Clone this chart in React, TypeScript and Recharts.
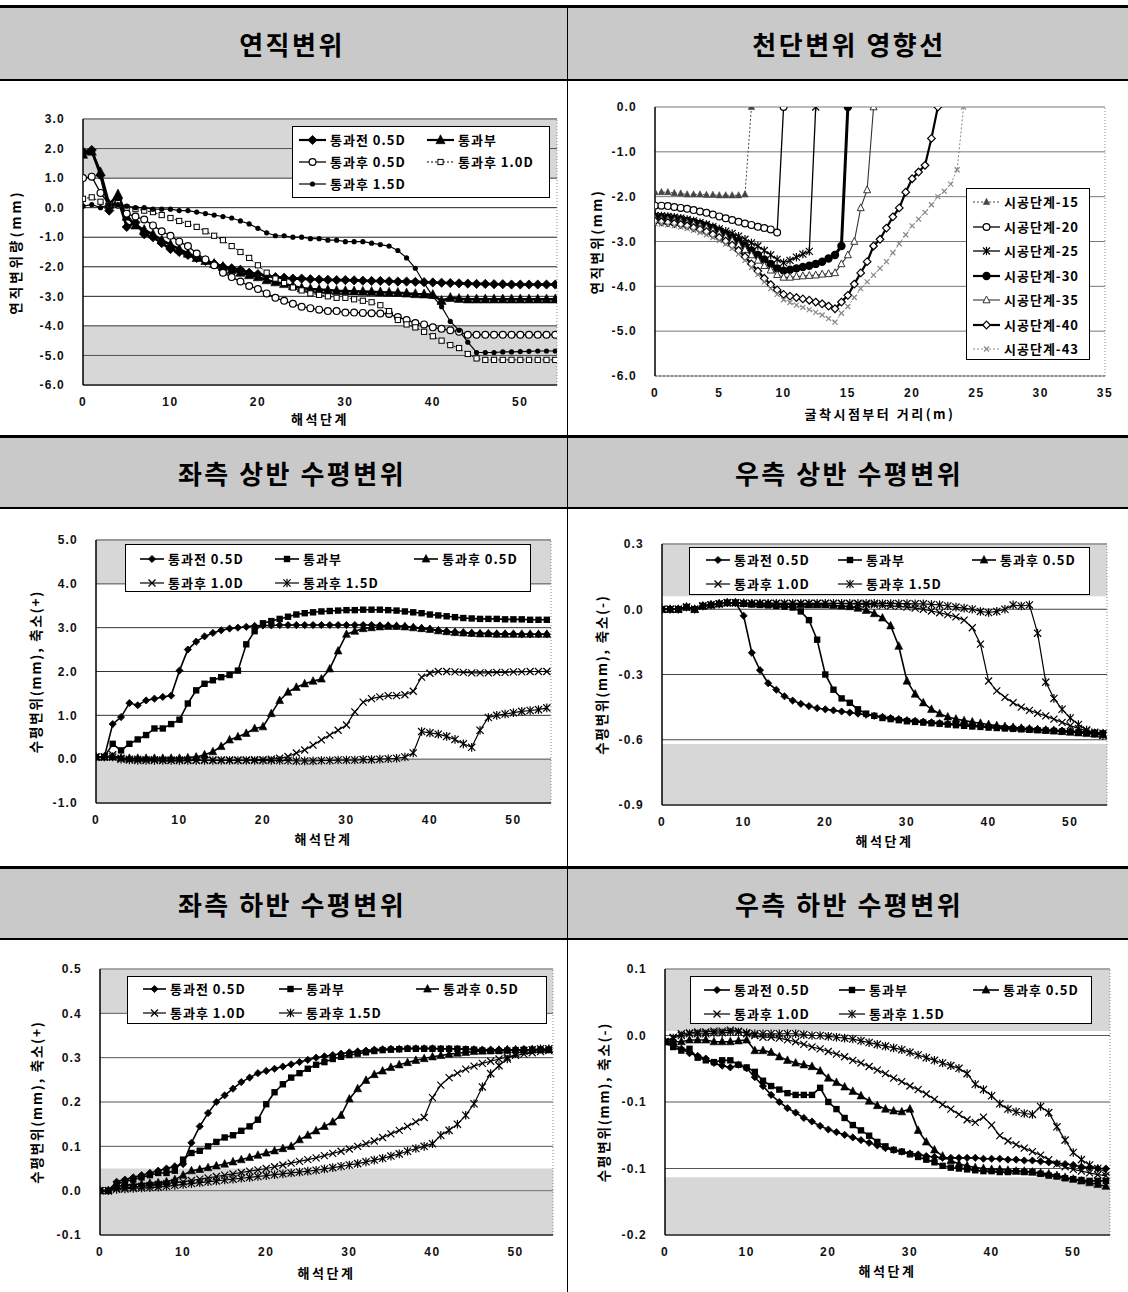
import React from 'react';
import { LineChart, Line, XAxis, YAxis, CartesianGrid, Legend, ReferenceArea, ReferenceLine, Label } from 'recharts';

// ---------------- DATA ----------------
const STEPS = [0,1,2,3,4,5,6,7,8,9,10,11,12,13,14,15,16,17,18,19,20,21,22,23,24,25,26,27,28,29,30,31,32,33,34,35,36,37,38,39,40,41,42,43,44,45,46,47,48,49,50,51,52,53,54];
const SERIES_NAMES = ['통과전 0.5D', '통과부', '통과후 0.5D', '통과후 1.0D', '통과후 1.5D'];

// 연직변위
const C1_BEFORE_05 = [1.9,1.95,1.1,-0.1,0.3,-0.65,-0.5,-0.9,-1.0,-1.2,-1.4,-1.5,-1.6,-1.7,-1.8,-1.9,-2.0,-2.05,-2.1,-2.2,-2.25,-2.3,-2.35,-2.37,-2.4,-2.4,-2.42,-2.43,-2.44,-2.45,-2.45,-2.46,-2.47,-2.48,-2.48,-2.49,-2.5,-2.5,-2.51,-2.52,-2.53,-2.54,-2.55,-2.56,-2.57,-2.58,-2.58,-2.59,-2.59,-2.6,-2.6,-2.6,-2.6,-2.6,-2.6];
const C1_PASS = [1.8,1.9,1.2,0.1,0.45,-0.3,-0.6,-0.75,-0.9,-1.1,-1.25,-1.4,-1.55,-1.7,-1.8,-1.9,-2.0,-2.1,-2.2,-2.28,-2.35,-2.45,-2.52,-2.58,-2.65,-2.72,-2.75,-2.77,-2.79,-2.81,-2.82,-2.83,-2.84,-2.85,-2.86,-2.87,-2.88,-2.9,-2.92,-2.93,-2.95,-3.15,-3.05,-3.08,-3.1,-3.1,-3.1,-3.1,-3.1,-3.1,-3.1,-3.1,-3.1,-3.1,-3.1];
const C1_AFTER_05 = [1.0,1.05,0.5,0.1,0.1,-0.2,-0.3,-0.4,-0.6,-0.8,-0.95,-1.15,-1.3,-1.55,-1.75,-1.95,-2.2,-2.35,-2.5,-2.65,-2.75,-2.9,-3.05,-3.15,-3.25,-3.35,-3.4,-3.45,-3.5,-3.5,-3.55,-3.55,-3.56,-3.57,-3.58,-3.6,-3.7,-3.8,-3.9,-3.95,-4.05,-4.1,-4.15,-4.2,-4.3,-4.3,-4.3,-4.3,-4.3,-4.3,-4.3,-4.3,-4.3,-4.3,-4.3];
const C1_AFTER_10 = [0.3,0.35,0.2,0.1,0.15,0.0,-0.05,-0.1,-0.15,-0.25,-0.35,-0.45,-0.55,-0.65,-0.8,-0.95,-1.1,-1.3,-1.5,-1.7,-1.95,-2.2,-2.4,-2.55,-2.7,-2.8,-2.9,-2.95,-3.0,-3.05,-3.05,-3.1,-3.15,-3.2,-3.3,-3.5,-3.8,-3.95,-4.05,-4.2,-4.35,-4.5,-4.65,-4.75,-4.95,-5.1,-5.15,-5.15,-5.15,-5.15,-5.15,-5.15,-5.15,-5.15,-5.15];
const C1_AFTER_15 = [0.05,0.1,0.0,0.1,0.1,0.05,0.0,0.0,-0.05,-0.05,-0.05,-0.1,-0.1,-0.15,-0.2,-0.25,-0.3,-0.35,-0.45,-0.55,-0.7,-0.85,-0.95,-0.95,-1.0,-1.0,-1.05,-1.05,-1.1,-1.1,-1.15,-1.15,-1.15,-1.2,-1.25,-1.3,-1.45,-1.7,-2.05,-2.55,-3.0,-3.35,-3.85,-4.15,-4.55,-4.9,-4.9,-4.9,-4.88,-4.88,-4.87,-4.86,-4.85,-4.85,-4.85];

// 천단변위 영향선
const DIST = [0,0.5,1,1.5,2,2.5,3,3.5,4,4.5,5,5.5,6,6.5,7,7.5,8,8.5,9,9.5,10,10.5,11,11.5,12,12.5,13,13.5,14,14.5,15,15.5,16,16.5,17,17.5,18,18.5,19,19.5,20,20.5,21,21.5,22,22.5,23,23.5,24];
const STAGE_NAMES = ['시공단계-15', '시공단계-20', '시공단계-25', '시공단계-30', '시공단계-35', '시공단계-40', '시공단계-43'];
const C2_S15 = [-1.9,-1.9,-1.9,-1.92,-1.93,-1.95,-1.95,-1.95,-1.96,-1.96,-1.97,-1.97,-1.97,-1.97,-1.95,0];
const C2_S20 = [-2.2,-2.2,-2.21,-2.23,-2.25,-2.27,-2.3,-2.33,-2.36,-2.4,-2.44,-2.48,-2.52,-2.56,-2.6,-2.63,-2.67,-2.7,-2.73,-2.8,0];
const C2_S25 = [-2.42,-2.43,-2.44,-2.46,-2.48,-2.51,-2.54,-2.58,-2.62,-2.67,-2.72,-2.77,-2.82,-2.88,-2.95,-3.03,-3.1,-3.2,-3.3,-3.4,-3.47,-3.42,-3.35,-3.28,-3.22,0];
const C2_S30 = [-2.45,-2.46,-2.47,-2.49,-2.51,-2.54,-2.57,-2.61,-2.65,-2.7,-2.76,-2.83,-2.91,-3.0,-3.1,-3.2,-3.3,-3.4,-3.5,-3.6,-3.65,-3.63,-3.6,-3.57,-3.54,-3.5,-3.45,-3.38,-3.3,-3.1,0];
const C2_S35 = [-2.5,-2.51,-2.52,-2.54,-2.56,-2.59,-2.62,-2.66,-2.7,-2.76,-2.82,-2.9,-2.98,-3.08,-3.18,-3.3,-3.42,-3.54,-3.64,-3.74,-3.8,-3.8,-3.78,-3.77,-3.76,-3.75,-3.73,-3.72,-3.7,-3.5,-3.3,-3.0,-2.25,-1.85,0];
const C2_S40 = [-2.55,-2.56,-2.58,-2.6,-2.62,-2.65,-2.69,-2.73,-2.78,-2.84,-2.91,-2.99,-3.08,-3.2,-3.34,-3.5,-3.66,-3.82,-3.96,-4.08,-4.18,-4.22,-4.25,-4.28,-4.31,-4.35,-4.39,-4.44,-4.5,-4.35,-4.2,-3.95,-3.7,-3.45,-3.1,-2.95,-2.7,-2.45,-2.25,-1.9,-1.6,-1.45,-1.3,-0.7,0];
const C2_S43 = [-2.6,-2.61,-2.63,-2.65,-2.68,-2.71,-2.75,-2.8,-2.85,-2.91,-2.98,-3.06,-3.16,-3.28,-3.42,-3.58,-3.74,-3.9,-4.05,-4.18,-4.3,-4.36,-4.42,-4.47,-4.52,-4.58,-4.64,-4.72,-4.8,-4.6,-4.45,-4.25,-4.05,-3.9,-3.75,-3.6,-3.45,-3.25,-3.05,-2.85,-2.65,-2.5,-2.35,-2.18,-2.0,-1.88,-1.72,-1.4,0];

// 좌측 상반 수평변위
const C3_BEFORE_05 = [0.05,0.05,0.8,0.96,1.28,1.23,1.34,1.38,1.42,1.45,2.02,2.5,2.68,2.8,2.88,2.94,2.98,3.0,3.02,3.04,3.05,3.05,3.06,3.06,3.06,3.06,3.06,3.06,3.06,3.06,3.06,3.06,3.06,3.06,3.05,3.05,3.04,3.03,3.01,2.99,2.97,2.94,2.92,2.9,2.89,2.88,2.87,2.87,2.86,2.86,2.86,2.85,2.85,2.85,2.85];
const C3_PASS = [0.05,0.05,0.35,0.2,0.35,0.45,0.55,0.7,0.7,0.8,0.9,1.27,1.57,1.72,1.8,1.87,1.92,2.02,2.62,2.92,3.1,3.15,3.2,3.25,3.3,3.33,3.35,3.37,3.38,3.39,3.4,3.4,3.41,3.41,3.41,3.4,3.39,3.37,3.35,3.33,3.3,3.28,3.26,3.24,3.22,3.21,3.2,3.2,3.2,3.19,3.19,3.19,3.18,3.18,3.18];
const C3_AFTER_05 = [0.05,0.05,0.05,0.03,0.02,0.02,0.02,0.02,0.02,0.02,0.02,0.03,0.05,0.1,0.17,0.29,0.44,0.51,0.59,0.7,0.74,1.04,1.34,1.53,1.64,1.72,1.78,1.83,2.06,2.47,2.85,2.92,2.98,3.0,3.02,3.03,3.03,3.02,3.0,2.98,2.96,2.93,2.91,2.89,2.88,2.87,2.86,2.86,2.85,2.85,2.85,2.85,2.85,2.85,2.85];
const C3_AFTER_10 = [0.05,0.05,0.1,0.02,0.0,0.0,-0.01,-0.01,-0.02,-0.02,-0.02,-0.02,-0.02,-0.02,-0.02,-0.02,-0.02,-0.02,-0.02,-0.01,-0.01,0.0,0.02,0.06,0.14,0.21,0.32,0.44,0.55,0.66,0.78,1.08,1.3,1.38,1.42,1.45,1.45,1.47,1.55,1.87,1.96,2.0,2.0,1.99,1.98,1.97,1.97,1.97,1.98,1.98,1.99,1.99,2.0,2.0,2.0];
const C3_AFTER_15 = [0.05,0.05,0.05,0.0,-0.02,-0.03,-0.03,-0.03,-0.03,-0.03,-0.03,-0.03,-0.03,-0.03,-0.03,-0.03,-0.03,-0.03,-0.03,-0.03,-0.03,-0.03,-0.03,-0.03,-0.04,-0.04,-0.04,-0.03,-0.03,-0.02,-0.02,-0.02,-0.01,-0.01,0.0,0.01,0.02,0.05,0.14,0.63,0.6,0.57,0.52,0.45,0.35,0.27,0.66,0.95,1.0,1.03,1.06,1.09,1.11,1.13,1.17];

// 우측 상반 수평변위
const C4_BEFORE_05 = [0,0,0,0.01,0,0.015,0.02,0.025,0.03,0.03,-0.03,-0.2,-0.28,-0.34,-0.37,-0.4,-0.42,-0.435,-0.445,-0.455,-0.46,-0.465,-0.47,-0.475,-0.48,-0.485,-0.49,-0.495,-0.5,-0.505,-0.51,-0.513,-0.517,-0.52,-0.523,-0.526,-0.529,-0.532,-0.535,-0.537,-0.54,-0.542,-0.544,-0.546,-0.548,-0.55,-0.552,-0.554,-0.556,-0.558,-0.56,-0.562,-0.564,-0.566,-0.568];
const C4_PASS = [0,0,0,0.01,0,0.015,0.02,0.025,0.03,0.03,0.025,0.022,0.02,0.018,0.015,0.012,0.008,-0.01,-0.05,-0.14,-0.3,-0.37,-0.41,-0.43,-0.46,-0.48,-0.49,-0.5,-0.505,-0.51,-0.515,-0.518,-0.521,-0.524,-0.527,-0.53,-0.533,-0.536,-0.539,-0.541,-0.544,-0.546,-0.548,-0.55,-0.552,-0.554,-0.556,-0.558,-0.56,-0.562,-0.564,-0.566,-0.568,-0.571,-0.574];
const C4_AFTER_05 = [0,0,0,0.01,0,0.015,0.02,0.025,0.03,0.03,0.028,0.026,0.025,0.024,0.023,0.022,0.022,0.021,0.02,0.02,0.02,0.018,0.015,0.012,0.005,-0.005,-0.02,-0.04,-0.076,-0.17,-0.33,-0.39,-0.43,-0.46,-0.48,-0.495,-0.505,-0.512,-0.518,-0.524,-0.53,-0.535,-0.539,-0.543,-0.547,-0.55,-0.553,-0.556,-0.559,-0.562,-0.565,-0.568,-0.571,-0.574,-0.577];
const C4_AFTER_10 = [0,0,0,0.01,0,0.015,0.02,0.025,0.03,0.03,0.028,0.027,0.027,0.027,0.027,0.027,0.027,0.027,0.027,0.027,0.027,0.027,0.026,0.025,0.024,0.022,0.02,0.018,0.016,0.013,0.01,0.005,0.0,-0.008,-0.016,-0.025,-0.035,-0.05,-0.085,-0.16,-0.33,-0.375,-0.405,-0.43,-0.45,-0.465,-0.478,-0.49,-0.505,-0.52,-0.535,-0.548,-0.558,-0.565,-0.57];
const C4_AFTER_15 = [0,0,0,0.01,0,0.015,0.02,0.025,0.03,0.03,0.028,0.027,0.027,0.027,0.027,0.027,0.027,0.027,0.027,0.027,0.027,0.027,0.027,0.027,0.027,0.027,0.027,0.026,0.026,0.026,0.026,0.025,0.025,0.022,0.02,0.015,0.01,0.005,0.0,-0.01,-0.015,-0.01,0.0,0.02,0.015,0.02,-0.11,-0.335,-0.41,-0.46,-0.5,-0.53,-0.555,-0.57,-0.58];

// 좌측 하반 수평변위
const C5_BEFORE_05 = [0,0,0.02,0.025,0.03,0.035,0.04,0.045,0.05,0.055,0.06,0.108,0.145,0.175,0.2,0.215,0.23,0.245,0.255,0.265,0.27,0.275,0.28,0.285,0.29,0.295,0.3,0.303,0.306,0.309,0.312,0.314,0.316,0.318,0.319,0.32,0.32,0.321,0.321,0.321,0.321,0.32,0.32,0.32,0.319,0.319,0.318,0.318,0.318,0.318,0.318,0.318,0.318,0.318,0.318];
const C5_PASS = [0,0,0.015,0.02,0.025,0.03,0.035,0.04,0.04,0.045,0.07,0.085,0.09,0.1,0.11,0.12,0.125,0.135,0.145,0.16,0.195,0.222,0.24,0.255,0.265,0.275,0.284,0.29,0.297,0.302,0.306,0.309,0.312,0.315,0.317,0.318,0.319,0.32,0.32,0.32,0.32,0.32,0.32,0.32,0.319,0.318,0.316,0.315,0.315,0.316,0.317,0.318,0.318,0.318,0.318];
const C5_AFTER_05 = [0,0,0.01,0.012,0.014,0.015,0.017,0.018,0.02,0.025,0.035,0.045,0.048,0.052,0.056,0.06,0.065,0.07,0.075,0.08,0.085,0.09,0.095,0.1,0.115,0.125,0.135,0.145,0.155,0.17,0.207,0.23,0.249,0.262,0.27,0.278,0.284,0.289,0.294,0.298,0.302,0.305,0.308,0.31,0.312,0.314,0.315,0.316,0.317,0.318,0.318,0.318,0.318,0.318,0.318];
const C5_AFTER_10 = [0,0,0.005,0.007,0.008,0.01,0.012,0.014,0.016,0.018,0.02,0.023,0.026,0.029,0.032,0.035,0.038,0.041,0.044,0.047,0.05,0.054,0.058,0.062,0.066,0.07,0.074,0.079,0.084,0.089,0.094,0.1,0.106,0.112,0.12,0.128,0.136,0.145,0.155,0.165,0.21,0.238,0.255,0.265,0.274,0.281,0.287,0.292,0.297,0.301,0.305,0.308,0.311,0.314,0.316];
const C5_AFTER_15 = [0,0,0.003,0.004,0.005,0.006,0.007,0.008,0.01,0.012,0.014,0.016,0.018,0.02,0.022,0.024,0.026,0.028,0.03,0.032,0.034,0.036,0.038,0.04,0.042,0.044,0.046,0.049,0.052,0.055,0.058,0.061,0.065,0.069,0.073,0.078,0.083,0.089,0.095,0.1,0.106,0.125,0.136,0.15,0.17,0.196,0.234,0.264,0.282,0.297,0.309,0.315,0.318,0.32,0.32];

// 우측 하반 수평변위
const C6_BEFORE_05 = [0.018,0.015,0.01,0.005,0.002,-0.001,-0.006,-0.009,-0.011,-0.008,-0.012,-0.022,-0.032,-0.042,-0.05,-0.057,-0.062,-0.068,-0.072,-0.077,-0.081,-0.084,-0.087,-0.09,-0.093,-0.096,-0.099,-0.102,-0.104,-0.106,-0.108,-0.109,-0.111,-0.112,-0.113,-0.113,-0.113,-0.113,-0.113,-0.114,-0.114,-0.114,-0.115,-0.115,-0.116,-0.116,-0.117,-0.118,-0.119,-0.12,-0.121,-0.123,-0.124,-0.125,-0.125];
const C6_PASS = [0.018,0.012,0.008,0.01,0.0,-0.003,-0.005,-0.003,-0.003,-0.008,-0.011,-0.016,-0.026,-0.032,-0.036,-0.04,-0.042,-0.042,-0.042,-0.034,-0.05,-0.058,-0.068,-0.076,-0.082,-0.088,-0.095,-0.1,-0.104,-0.106,-0.109,-0.112,-0.115,-0.118,-0.122,-0.124,-0.125,-0.126,-0.127,-0.128,-0.128,-0.129,-0.129,-0.128,-0.129,-0.129,-0.131,-0.133,-0.134,-0.136,-0.137,-0.138,-0.139,-0.139,-0.139];
const C6_AFTER_05 = [0.018,0.018,0.018,0.02,0.02,0.02,0.018,0.018,0.018,0.019,0.02,0.008,0.008,0.006,0.001,-0.003,-0.006,-0.008,-0.01,-0.015,-0.023,-0.028,-0.033,-0.038,-0.043,-0.049,-0.054,-0.058,-0.06,-0.061,-0.058,-0.082,-0.095,-0.104,-0.111,-0.116,-0.12,-0.122,-0.124,-0.125,-0.126,-0.126,-0.127,-0.128,-0.128,-0.129,-0.13,-0.131,-0.133,-0.135,-0.137,-0.139,-0.141,-0.143,-0.145];
const C6_AFTER_10 = [0.018,0.023,0.027,0.028,0.029,0.029,0.03,0.03,0.031,0.03,0.027,0.025,0.023,0.023,0.022,0.02,0.018,0.015,0.012,0.01,0.007,0.004,0.001,-0.003,-0.006,-0.01,-0.014,-0.018,-0.023,-0.027,-0.032,-0.036,-0.041,-0.047,-0.053,-0.058,-0.064,-0.07,-0.073,-0.067,-0.076,-0.088,-0.094,-0.098,-0.102,-0.106,-0.11,-0.115,-0.12,-0.123,-0.126,-0.128,-0.13,-0.132,-0.133];
const C6_AFTER_15 = [0.018,0.022,0.025,0.027,0.027,0.027,0.028,0.028,0.029,0.029,0.028,0.027,0.027,0.027,0.027,0.027,0.027,0.026,0.025,0.025,0.024,0.023,0.022,0.021,0.019,0.017,0.015,0.013,0.011,0.009,0.006,0.003,0.0,-0.003,-0.006,-0.009,-0.012,-0.018,-0.03,-0.036,-0.043,-0.052,-0.058,-0.061,-0.063,-0.064,-0.055,-0.062,-0.078,-0.093,-0.107,-0.115,-0.121,-0.125,-0.129];

// axis ticks / labels
const X_TICKS_STEP = [0,10,20,30,40,50];
const X_TICKS_DIST = [0,5,10,15,20,25,30,35];
const C1_Y_TICKS = [-6,-5,-4,-3,-2,-1,0,1,2,3];
const C2_Y_TICKS = [-6,-5,-4,-3,-2,-1,0];
const C3_Y_TICKS = [-1,0,1,2,3,4,5];
const C4_Y_TICKS = [-0.9,-0.6,-0.3,0,0.3];
const C5_Y_TICKS = [-0.1,0,0.1,0.2,0.3,0.4,0.5];
const C6_Y_TICKS = [-0.2,-0.125,-0.05,0.025,0.1];
const C6_Y_LABELS = ['-0.2','-0.1','-0.1','0.0','0.1'];

const TITLES = ['연직변위', '천단변위 영향선', '좌측 상반 수평변위', '우측 상반 수평변위', '좌측 하반 수평변위', '우측 하반 수평변위'];

// ---------------- STYLES ----------------
const FONT_KR = '"Noto Sans CJK KR", "Noto Sans", sans-serif';
const FONT_NUM = '"Liberation Sans", Arial, sans-serif';

const ST_C1 = [
  { shape: 'diamond', size: 4.6, width: 2.6, color: '#000' },
  { shape: 'triangle', size: 4.6, width: 2.6, color: '#000' },
  { shape: 'ocircle', size: 3.4, width: 1.3, color: '#000' },
  { shape: 'osquare', size: 2.6, width: 1, color: '#000', dash: '2 2' },
  { shape: 'circle', size: 2.6, width: 1.2, color: '#000' },
];
const ST_LR = [
  { shape: 'diamond', size: 3.6, width: 1.6, color: '#000' },
  { shape: 'square', size: 3.2, width: 1.6, color: '#000' },
  { shape: 'triangle', size: 3.9, width: 1.6, color: '#000' },
  { shape: 'x', size: 3.5, width: 1.2, color: '#000' },
  { shape: 'star', size: 3.6, width: 1.2, color: '#000' },
];
const ST_C2 = [
  { shape: 'triangle', size: 3.2, width: 1, color: '#444', dash: '2 2' },
  { shape: 'ocircle', size: 3.4, width: 1.3, color: '#000' },
  { shape: 'star', size: 3.5, width: 1.3, color: '#000' },
  { shape: 'circle', size: 4.2, width: 3, color: '#000' },
  { shape: 'otriangle', size: 3.5, width: 1.1, color: '#333' },
  { shape: 'odiamond', size: 3.8, width: 2.2, color: '#000' },
  { shape: 'x', size: 2.5, width: 1, color: '#888', dash: '2 2' },
];

// ---------------- HELPERS ----------------
function Mark({ shape, cx, cy, s, color }: any) {
  if (cx == null || cy == null || isNaN(cx) || isNaN(cy)) return null;
  switch (shape) {
    case 'diamond':
      return <polygon points={`${cx},${cy - s} ${cx + s},${cy} ${cx},${cy + s} ${cx - s},${cy}`} fill={color} stroke={color} strokeWidth={0.8} />;
    case 'odiamond':
      return <polygon points={`${cx},${cy - s} ${cx + s},${cy} ${cx},${cy + s} ${cx - s},${cy}`} fill="#fff" stroke={color} strokeWidth={1.2} />;
    case 'square':
      return <rect x={cx - s} y={cy - s} width={2 * s} height={2 * s} fill={color} />;
    case 'osquare':
      return <rect x={cx - s} y={cy - s} width={2 * s} height={2 * s} fill="#fff" stroke={color} strokeWidth={1} />;
    case 'triangle':
      return <polygon points={`${cx},${cy - s * 1.15} ${cx + s},${cy + s * 0.8} ${cx - s},${cy + s * 0.8}`} fill={color} stroke={color} strokeWidth={0.6} />;
    case 'otriangle':
      return <polygon points={`${cx},${cy - s * 1.15} ${cx + s},${cy + s * 0.8} ${cx - s},${cy + s * 0.8}`} fill="#fff" stroke={color} strokeWidth={1} />;
    case 'circle':
      return <circle cx={cx} cy={cy} r={s} fill={color} />;
    case 'ocircle':
      return <circle cx={cx} cy={cy} r={s} fill="#fff" stroke={color} strokeWidth={1.2} />;
    case 'x':
      return (
        <g stroke={color} strokeWidth={1.2}>
          <line x1={cx - s} y1={cy - s} x2={cx + s} y2={cy + s} />
          <line x1={cx - s} y1={cy + s} x2={cx + s} y2={cy - s} />
        </g>
      );
    case 'star':
      return (
        <g stroke={color} strokeWidth={1.2}>
          <line x1={cx - s} y1={cy - s} x2={cx + s} y2={cy + s} />
          <line x1={cx - s} y1={cy + s} x2={cx + s} y2={cy - s} />
          <line x1={cx} y1={cy - s * 1.2} x2={cx} y2={cy + s * 1.2} />
        </g>
      );
    default:
      return null;
  }
}

function buildRows(xs: number[], cols: number[][]) {
  return xs.map((x, i) => {
    const r: any = { x };
    cols.forEach((c, j) => { r['s' + j] = c[i]; });
    return r;
  });
}

function pairs(xs: number[], ys: number[]) {
  return ys.map((y, i) => ({ x: xs[i], y }));
}

const YW = 100, MT = 12, MR = 14, XH = 60;

function Panel(p: any) {
  const W = YW + p.plotW + MR;
  const H = MT + p.plotH + XH;
  const chartLeft = p.plotLeft - YW;
  const chartTop = p.plotTop - MT;
  const lg = p.legend;
  const fmt = (v: number) => {
    if (p.yLabels) {
      const idx = p.yTicks.indexOf(v);
      if (idx >= 0) return p.yLabels[idx];
    }
    return v.toFixed(1);
  };
  const legendContent = () => (
    <div style={{ position: 'relative', width: lg.width, height: lg.height, border: '1px solid #000', background: '#fff', boxSizing: 'border-box' }}>
      {p.series.map((s: any, i: number) => {
        const r = Math.floor(i / lg.perRow);
        const c = i % lg.perRow;
        return (
          <div key={s.key} style={{ position: 'absolute', left: lg.cols[c], top: lg.rows[r] - 9, height: 18, display: 'flex', alignItems: 'center', whiteSpace: 'nowrap' }}>
            <svg width={lg.lineLen} height={14} style={{ display: 'block' }}>
              <line x1={0} y1={7} x2={lg.lineLen} y2={7} stroke={s.style.color} strokeWidth={Math.min(s.style.width, 2.2)} strokeDasharray={s.style.dash} />
              <Mark shape={s.style.shape} cx={lg.lineLen / 2} cy={7} s={s.style.size} color={s.style.color} />
            </svg>
            <span style={{ marginLeft: lg.gap, fontFamily: FONT_KR, fontSize: 13, fontWeight: 700, letterSpacing: 1, color: '#000', lineHeight: '18px' }}>{s.name}</span>
          </div>
        );
      })}
    </div>
  );
  const yTx = YW - p.yTitleOff;
  const yTy = MT + p.plotH / 2;
  return (
    <div style={{ position: 'absolute', left: chartLeft, top: chartTop }}>
      <LineChart width={W} height={H} data={p.rows} margin={{ top: MT, right: MR, left: 0, bottom: 0 }}>
        {p.bands.map((b: number[], i: number) => (
          <ReferenceArea key={'b' + i} y1={b[0]} y2={b[1]} x1={p.xDomain[0]} x2={p.xDomain[1]} fill="#9a9a9a" fillOpacity={0.4} stroke="none" ifOverflow="hidden" />
        ))}
        <CartesianGrid vertical={false} stroke={p.gridColor} strokeWidth={1} />
        <ReferenceLine x={p.xDomain[1]} stroke="#888" strokeDasharray="1 2" ifOverflow="extendDomain" />
        <XAxis
          type="number"
          dataKey="x"
          domain={p.xDomain}
          ticks={p.xTicks}
          interval={0}
          allowDataOverflow
          height={XH}
          axisLine={{ stroke: p.xAxisColor || '#000', strokeWidth: 1.2, strokeDasharray: p.xAxisDash }}
          tickLine={false}
          tickSize={6}
          tickMargin={6}
          tick={{ fontFamily: FONT_NUM, fontSize: 12, fontWeight: 700, fill: '#111', letterSpacing: 1.5 }}
        >
          <Label
            value={p.xTitle}
            position="center"
            content={() => (
              <text x={YW + p.plotW / 2} y={MT + p.plotH + p.xTitleOff} textAnchor="middle" dominantBaseline="central" fontFamily={FONT_KR} fontSize={13} fontWeight={700} letterSpacing={2.5} fill="#000">
                {p.xTitle}
              </text>
            )}
          />
        </XAxis>
        <YAxis
          type="number"
          domain={p.yDomain}
          ticks={p.yTicks}
          interval={0}
          allowDataOverflow
          width={YW}
          axisLine={{ stroke: '#000', strokeWidth: 1.5 }}
          tickLine={false}
          tickSize={6}
          tickMargin={12}
          tickFormatter={fmt}
          tick={{ fontFamily: FONT_NUM, fontSize: 12, fontWeight: 700, fill: '#111', letterSpacing: 1.2 }}
        >
          <Label
            value={p.yTitle}
            position="center"
            content={() => (
              <text x={yTx} y={yTy} transform={`rotate(-90 ${yTx} ${yTy})`} textAnchor="middle" dominantBaseline="central" fontFamily={FONT_KR} fontSize={13.5} fontWeight={700} letterSpacing={p.yTitleSpacing || 1.8} fill="#000">
                {p.yTitle}
              </text>
            )}
          />
        </YAxis>
        {p.series.map((s: any) => (
          <Line
            key={s.key}
            data={s.data}
            dataKey={s.data ? 'y' : s.key}
            name={s.name}
            type="linear"
            stroke={s.style.color}
            strokeWidth={s.style.width}
            strokeDasharray={s.style.dash}
            isAnimationActive={false}
            activeDot={false}
            connectNulls
            dot={(d: any) => (
              <g key={s.key + '-' + d.index}>
                <Mark shape={s.style.shape} cx={d.cx} cy={d.cy} s={s.style.size} color={s.style.color} />
              </g>
            )}
          />
        ))}
        <Legend
          layout="vertical"
          align="center"
          verticalAlign="middle"
          content={legendContent}
          wrapperStyle={{ left: lg.left - chartLeft, top: lg.top - chartTop, width: lg.width, height: lg.height }}
        />
      </LineChart>
    </div>
  );
}

function Header({ top, height, left, right }: any) {
  const text = { position: 'absolute' as const, top, height, display: 'flex', alignItems: 'center', justifyContent: 'center', fontFamily: FONT_KR, fontSize: 26, fontWeight: 700, letterSpacing: 2.5, color: '#000' };
  return (
    <>
      <div style={{ position: 'absolute', left: 0, top, width: 1128, height, background: '#c9c9c9', borderTop: '3px solid #000', borderBottom: '2px solid #000', boxSizing: 'border-box' }} />
      <div style={{ ...text, left: 0, width: 584 }}>{left}</div>
      <div style={{ ...text, left: 567, width: 564 }}>{right}</div>
    </>
  );
}

// ---------------- APP ----------------
export default function App() {
  const lrSeries = (arrs: number[][]) => arrs.map((_, i) => ({ key: 's' + i, name: SERIES_NAMES[i], style: ST_LR[i] }));
  const c1Series = SERIES_NAMES.map((n, i) => ({ key: 's' + i, name: n, style: ST_C1[i] }));
  const c2Arrays = [C2_S15, C2_S20, C2_S25, C2_S30, C2_S35, C2_S40, C2_S43];
  const c2Series = STAGE_NAMES.map((n, i) => ({ key: 'g' + i, name: n, style: ST_C2[i], data: pairs(DIST, c2Arrays[i]) }));

  const c1 = [C1_BEFORE_05, C1_PASS, C1_AFTER_05, C1_AFTER_10, C1_AFTER_15];
  const c3 = [C3_BEFORE_05, C3_PASS, C3_AFTER_05, C3_AFTER_10, C3_AFTER_15];
  const c4 = [C4_BEFORE_05, C4_PASS, C4_AFTER_05, C4_AFTER_10, C4_AFTER_15];
  const c5 = [C5_BEFORE_05, C5_PASS, C5_AFTER_05, C5_AFTER_10, C5_AFTER_15];
  const c6 = [C6_BEFORE_05, C6_PASS, C6_AFTER_05, C6_AFTER_10, C6_AFTER_15];

  const lgLR = (left: number, top: number, width: number, cols: number[], rows: number[], lineLen: number) => ({ left, top, width, height: 48, cols, rows, perRow: 3, lineLen, gap: 4 });

  return (
    <div style={{ position: 'absolute', left: 0, top: 0, width: 1128, height: 1292, background: '#fff', overflow: 'hidden' }}>
      <Header top={5} height={76} left={TITLES[0]} right={TITLES[1]} />
      <Header top={435} height={74} left={TITLES[2]} right={TITLES[3]} />
      <Header top={866} height={74} left={TITLES[4]} right={TITLES[5]} />
      <div style={{ position: 'absolute', left: 567, top: 5, width: 1, height: 1287, background: '#000' }} />

      <Panel
        plotLeft={83} plotTop={119} plotW={474} plotH={266}
        rows={buildRows(STEPS, c1)} series={c1Series}
        xDomain={[0, 54.2]} xTicks={X_TICKS_STEP}
        yDomain={[-6, 3]} yTicks={C1_Y_TICKS}
        bands={[[1, 3], [-6, -4]]} gridColor="#222"
        yTitle="연직변위량(mm)" xTitle="해석단계" yTitleOff={68} xTitleOff={33} yTitleSpacing={3}
        legend={{ left: 292, top: 126, width: 258, height: 72, cols: [6, 134], rows: [13, 35, 57], perRow: 2, lineLen: 27, gap: 4 }}
      />
      <Panel
        plotLeft={655} plotTop={107} plotW={450} plotH={269}
        series={c2Series}
        xDomain={[0, 35]} xTicks={X_TICKS_DIST}
        yDomain={[-6, 0]} yTicks={C2_Y_TICKS}
        bands={[]} gridColor="#777" xAxisColor="#666" xAxisDash="2 2"
        yTitle="연직변위(mm)" xTitle="굴착시점부터 거리(m)" yTitleOff={59} xTitleOff={37} yTitleSpacing={2.5}
        legend={{ left: 966, top: 188, width: 124, height: 172, cols: [6], rows: [13, 37.5, 62, 86.5, 111, 135.5, 160], perRow: 1, lineLen: 27, gap: 4 }}
      />
      <Panel
        plotLeft={96} plotTop={540} plotW={455} plotH={263}
        rows={buildRows(STEPS, c3)} series={lrSeries(c3)}
        xDomain={[0, 54.5]} xTicks={X_TICKS_STEP}
        yDomain={[-1, 5]} yTicks={C3_Y_TICKS}
        bands={[[4, 5], [-1, 0]]} gridColor="#333"
        yTitle="수평변위(mm), 축소(+)" xTitle="해석단계" yTitleOff={61} xTitleOff={35}
        legend={lgLR(125, 544, 406, [14, 149, 288], [14, 38], 24)}
      />
      <Panel
        plotLeft={662} plotTop={544} plotW={445} plotH={261}
        rows={buildRows(STEPS, c4)} series={lrSeries(c4)}
        xDomain={[0, 54.5]} xTicks={X_TICKS_STEP}
        yDomain={[-0.9, 0.3]} yTicks={C4_Y_TICKS}
        bands={[[0.06, 0.3], [-0.9, -0.62]]} gridColor="#444"
        yTitle="수평변위(mm), 축소(-)" xTitle="해석단계" yTitleOff={61} xTitleOff={35}
        legend={lgLR(689, 547, 401, [16, 148, 282], [12, 36], 24)}
      />
      <Panel
        plotLeft={100} plotTop={969} plotW={453} plotH={266}
        rows={buildRows(STEPS, c5)} series={lrSeries(c5)}
        xDomain={[0, 54.5]} xTicks={X_TICKS_STEP}
        yDomain={[-0.1, 0.5]} yTicks={C5_Y_TICKS}
        bands={[[0.4, 0.5], [-0.1, 0.05]]} gridColor="#555"
        yTitle="수평변위(mm), 축소(+)" xTitle="해석단계" yTitleOff={64} xTitleOff={37}
        legend={lgLR(127, 976, 420, [15, 151, 288], [12, 36], 23)}
      />
      <Panel
        plotLeft={665} plotTop={969} plotW={445} plotH={266}
        rows={buildRows(STEPS, c6)} series={lrSeries(c6)}
        xDomain={[0, 54.5]} xTicks={X_TICKS_STEP}
        yDomain={[-0.2, 0.1]} yTicks={C6_Y_TICKS} yLabels={C6_Y_LABELS}
        bands={[[0.03, 0.1], [-0.2, -0.135]]} gridColor="#555"
        yTitle="수평변위(mm), 축소(-)" xTitle="해석단계" yTitleOff={62} xTitleOff={35}
        legend={lgLR(690, 976, 402, [13, 148, 282], [13, 37], 26)}
      />
    </div>
  );
}
